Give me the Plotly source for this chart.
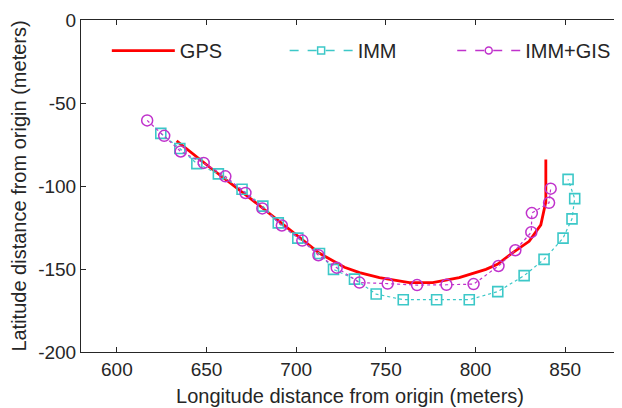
import plotly.graph_objects as go

# GPS track (red solid line)
gps_x = [633.3, 651.8, 674.0, 696.3, 713.0, 726.9, 735.3, 746.4, 763.1, 776.1, 790.9, 805.8, 812.2, 820.6, 829.9, 836.4, 839.2, 839.2]
gps_y = [-72.8, -88.7, -107.1, -126.2, -140.5, -149.0, -152.2, -155.2, -158.2, -158.2, -155.2, -150.2, -147.2, -140.3, -133.3, -123.4, -109.5, -84.1]

# IMM estimates (cyan squares)
imm_x = [624.5, 635.1, 644.6, 656.6, 669.8, 681.4, 690.0, 700.9, 713.0, 720.8, 732.5, 744.6, 759.7, 778.3, 796.5, 812.4, 827.1, 838.2, 848.8, 853.8, 855.3, 851.6]
imm_y = [-68.3, -77.4, -86.5, -92.7, -102.0, -112.1, -122.2, -131.4, -140.7, -150.2, -156.1, -165.1, -168.5, -168.5, -168.5, -163.6, -154.0, -144.2, -131.4, -119.8, -107.6, -96.0]

# IMM+GIS estimates (magenta circles)
gis_x = [616.9, 626.4, 635.6, 648.4, 660.5, 671.7, 681.1, 692.0, 703.4, 712.4, 722.6, 735.3, 751.0, 767.4, 783.8, 798.9, 812.8, 822.2, 831.1, 831.4, 841.0, 841.9]
gis_y = [-60.5, -69.8, -79.2, -86.1, -94.2, -104.2, -113.5, -123.8, -132.9, -141.7, -149.2, -158.2, -158.8, -159.7, -159.5, -159.1, -148.2, -138.7, -127.8, -116.3, -110.1, -101.6]

x_ticks = [600, 650, 700, 750, 800, 850]
y_ticks = [0, -50, -100, -150, -200]

RED = "#FF0000"
CYAN = "#3CC8C8"
MAG = "#C032CC"

fig = go.Figure()

fig.add_trace(go.Scatter(x=gps_x, y=gps_y, mode="lines", name="GPS",
                         line=dict(color=RED, width=2.8), legend="legend"))
fig.add_trace(go.Scatter(x=imm_x, y=imm_y, mode="lines+markers", name="IMM",
                         line=dict(color=CYAN, width=1.2, dash="dot"),
                         marker=dict(symbol="square-open", size=10, color=CYAN, line=dict(width=1.6)),
                         showlegend=False))
fig.add_trace(go.Scatter(x=gis_x, y=gis_y, mode="lines+markers", name="IMM+GIS",
                         line=dict(color=MAG, width=1.2, dash="dot"),
                         marker=dict(symbol="circle-open", size=11, color=MAG, line=dict(width=1.5)),
                         showlegend=False))
# legend entries (dashed style as in reference legend)
fig.add_trace(go.Scatter(x=[None], y=[None], mode="lines+markers", name="IMM",
                         line=dict(color=CYAN, width=1.5, dash="dash"),
                         marker=dict(symbol="square-open", size=7, color=CYAN, line=dict(width=1.5)),
                         legend="legend2"))
fig.add_trace(go.Scatter(x=[None], y=[None], mode="lines+markers", name="IMM+GIS",
                         line=dict(color=MAG, width=1.5, dash="dash"),
                         marker=dict(symbol="circle-open", size=7, color=MAG, line=dict(width=1.5)),
                         legend="legend3"))

axis_common = dict(showline=True, linecolor="#262626", linewidth=1, mirror="ticks",
                   ticks="inside", ticklen=5, tickcolor="#262626", showgrid=False,
                   zeroline=False, tickfont=dict(size=19, color="#262626"),
                   ticklabeloverflow="allow")

leg = dict(orientation="h", y=0.908, xanchor="left", yanchor="middle",
           bgcolor="rgba(0,0,0,0)", font=dict(size=20), itemwidth=63)

fig.update_layout(
    width=614, height=400,
    margin=dict(l=73, r=2, t=8, b=56),
    paper_bgcolor="white", plot_bgcolor="white",
    font=dict(family="Liberation Sans, Arial, sans-serif", size=20, color="#262626"),
    xaxis=dict(range=[580, 880], tickvals=x_ticks, ticktext=[str(v) for v in x_ticks],
               title=dict(text="Longitude distance from origin (meters)", standoff=10,
                          font=dict(size=20)), **axis_common),
    yaxis=dict(range=[-200, 0], tickvals=y_ticks, ticktext=[str(v) for v in y_ticks],
               title=dict(text="Latitude distance from origin (meters)", standoff=10,
                          font=dict(size=20)), **axis_common),
    legend=dict(x=0.048, **leg),
    legend2=dict(x=0.3785, **leg),
    legend3=dict(x=0.690, **leg),
    showlegend=True,
)

fig.write_html("out.html")
